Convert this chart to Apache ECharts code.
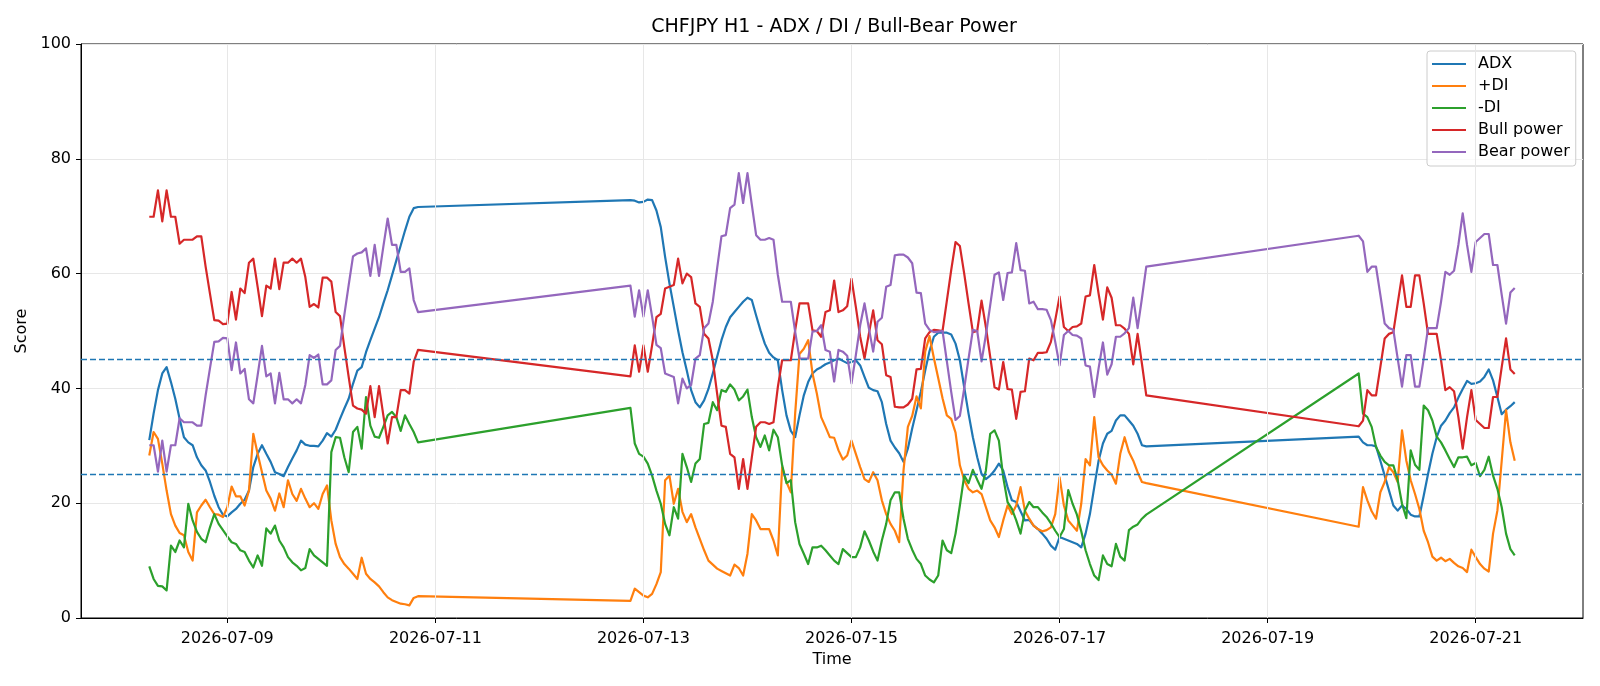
<!DOCTYPE html>
<html>
<head>
<meta charset="utf-8">
<title>CHFJPY H1 - ADX / DI / Bull-Bear Power</title>
<script src="https://cdn.jsdelivr.net/npm/echarts@6/dist/echarts.min.js"></script>
<style>
  html, body { margin: 0; padding: 0; background: #fff; }
  #chart { width: 1600px; height: 686px; }
</style>
</head>
<body>
<div id="chart"></div>
<script>
// hourly bars: first bar and bar count of each trading stretch (weekends are skipped)
const sessions = [
  ['2026-07-08 06:00', 63],
  ['2026-07-12 21:00', 120],
  ['2026-07-19 21:00', 37]
]
const xRange = ['2026-07-07 14:15', '2026-07-22 00:45']
const tickLabels = ['2026-07-09', '2026-07-11', '2026-07-13', '2026-07-15', '2026-07-17', '2026-07-19', '2026-07-21']
const levels = [45, 25]

const adx = [
  31.0, 35.6, 39.7, 42.6, 43.7, 41.1, 38.2, 34.7, 31.5, 30.6,
  30.1, 28.0, 26.6, 25.7, 23.7, 21.3, 19.3, 18.0, 17.7, 18.4,
  19.0, 19.9, 20.6, 22.2, 26.3, 28.6, 30.1, 28.6, 27.2, 25.4,
  25.1, 24.7, 26.3, 27.8, 29.2, 30.9, 30.2, 30.0, 30.0, 29.9,
  30.9, 32.2, 31.6, 32.8, 34.7, 36.5, 38.2, 40.8, 43.1, 43.7,
  46.3, 48.4, 50.4, 52.4, 54.8, 57.1, 59.7, 62.3, 64.9, 67.5,
  69.9, 71.4, 71.6,
  72.8, 72.7, 72.4, 72.5, 72.9, 72.8, 71.0, 68.1, 62.9, 58.3,
  54.2, 50.1, 46.3, 43.1, 39.7, 37.6, 36.7, 37.9, 39.9, 42.6,
  45.5, 48.4, 50.7, 52.4, 53.3, 54.2, 55.1, 55.8, 55.4, 52.7,
  50.1, 47.8, 46.2, 45.4, 44.9, 39.7, 35.3, 32.6, 31.5, 35.3,
  38.8, 41.1, 42.6, 43.3, 43.7, 44.2, 44.5, 44.9, 45.2, 44.8,
  44.4, 44.6, 44.9, 44.0, 42.0, 40.1, 39.7, 39.5, 37.6, 33.8,
  30.9, 29.7, 28.7, 27.2, 29.5, 33.0, 36.2, 39.4, 43.1, 46.5,
  49.0, 49.7, 49.7, 49.7, 49.4, 47.8, 44.9, 40.2, 35.6, 31.5,
  28.0, 25.1, 24.2, 24.8, 25.7, 26.9, 25.7, 22.8, 20.5, 20.2,
  18.6, 17.0, 17.1, 16.1, 15.5, 14.7, 13.8, 12.6, 11.9, 14.1,
  13.8, 13.5, 13.2, 12.9, 12.3, 14.7, 18.1, 22.8, 27.4, 30.4,
  32.1, 32.6, 34.4, 35.3, 35.3, 34.4, 33.5, 32.1, 30.1, 29.9,
  31.6, 30.6, 30.1, 30.1, 29.9, 27.4, 24.8, 22.2, 19.6, 18.7,
  19.6, 19.0, 18.0, 17.7, 17.7, 21.3, 25.1, 28.6, 31.5, 33.5,
  34.4, 35.7, 36.7, 38.4, 39.9, 41.3, 40.8, 40.9, 41.2, 42.0,
  43.3, 41.4, 38.5, 35.5, 36.3, 36.9, 37.6
]
const plusDi = [
  28.3, 32.4, 31.2, 26.9, 22.2, 18.1, 16.1, 14.8, 14.4, 11.5,
  10.0, 18.4, 19.6, 20.6, 19.3, 18.1, 18.0, 17.6, 19.3, 22.9,
  21.2, 21.2, 19.6, 22.2, 32.1, 28.6, 25.4, 22.2, 20.8, 18.7,
  21.7, 19.3, 24.0, 21.6, 20.4, 22.5, 20.8, 19.3, 20.0, 19.0,
  21.6, 23.1, 17.0, 12.9, 10.6, 9.4, 8.6, 7.7, 6.8, 10.5,
  7.7, 6.8, 6.2, 5.5, 4.5, 3.6, 3.1, 2.8, 2.5, 2.4,
  2.2, 3.5, 3.8,
  3.0, 5.1, 4.5, 3.9, 3.6, 4.2, 5.9, 8.0, 24.0, 24.8,
  19.9, 22.5, 18.5, 16.7, 18.1, 15.8, 13.8, 11.8, 10.0, 9.3,
  8.6, 8.2, 7.8, 7.4, 9.3, 8.7, 7.4, 11.2, 18.1, 17.0,
  15.5, 15.5, 15.5, 13.5, 10.9, 26.3, 23.7, 21.9, 35.6, 46.0,
  46.9, 48.4, 42.6, 39.1, 35.0, 33.3, 31.5, 31.4, 29.2, 27.6,
  28.3, 30.9, 28.6, 26.3, 24.2, 23.7, 25.4, 24.0, 20.5, 18.1,
  16.4, 15.2, 13.2, 25.7, 33.3, 35.2, 38.6, 36.5, 46.4, 49.1,
  45.3, 41.8, 38.3, 35.3, 34.7, 32.3, 26.6, 24.0, 22.5, 21.9,
  22.2, 21.6, 19.3, 17.0, 15.8, 14.1, 17.0, 19.6, 18.1, 19.6,
  22.8, 18.7, 17.3, 16.1, 15.5, 15.1, 15.3, 15.8, 18.1, 24.5,
  19.6, 17.0, 16.1, 15.2, 19.9, 27.7, 26.6, 35.0, 28.0, 26.6,
  25.7, 25.0, 23.4, 28.6, 31.5, 28.9, 27.4, 25.4, 23.7, 23.5,
  15.9, 22.8, 20.5, 18.6, 17.3, 21.9, 23.7, 26.3, 25.4, 23.7,
  32.7, 27.4, 24.0, 21.6, 19.0, 15.2, 13.2, 10.7, 10.0, 10.5,
  9.9, 10.3, 9.6, 9.0, 8.7, 8.0, 11.9, 10.6, 9.4, 8.6,
  8.1, 14.7, 18.7, 27.4, 36.2, 30.6, 27.4
]
const minusDi = [
  9.0, 6.8, 5.6, 5.5, 4.8, 12.6, 11.5, 13.5, 12.3, 19.9,
  17.0, 15.0, 13.8, 13.2, 15.8, 18.1, 16.4, 15.3, 14.2, 13.2,
  12.9, 11.8, 11.5, 10.0, 8.8, 10.9, 9.1, 15.6, 14.7, 16.1,
  13.5, 12.3, 10.6, 9.7, 9.1, 8.3, 8.7, 12.0, 10.9, 10.3,
  9.7, 9.1, 28.9, 31.5, 31.4, 28.0, 25.4, 32.4, 33.3, 29.5,
  38.5, 33.5, 31.6, 31.4, 33.3, 35.3, 35.9, 35.0, 32.6, 35.3,
  33.8, 32.4, 30.6,
  36.6, 30.4, 28.6, 28.1, 26.9, 24.8, 22.2, 19.9, 16.4, 14.4,
  19.3, 17.3, 28.6, 26.3, 23.7, 26.9, 27.7, 33.8, 34.0, 37.6,
  36.2, 39.7, 39.4, 40.7, 39.8, 37.9, 38.6, 39.8, 35.0, 31.5,
  29.8, 31.8, 29.2, 32.8, 31.5, 26.6, 23.5, 24.0, 16.7, 12.9,
  11.2, 9.4, 12.3, 12.3, 12.6, 11.8, 10.9, 10.0, 9.4, 12.0,
  11.3, 10.6, 10.6, 12.3, 15.1, 13.5, 11.6, 10.0, 13.5, 16.4,
  20.5, 21.9, 21.9, 17.3, 13.8, 11.9, 10.3, 9.4, 7.4, 6.7,
  6.2, 7.4, 13.5, 11.8, 11.3, 14.7, 19.6, 24.8, 23.5, 25.8,
  24.1, 22.5, 25.7, 32.1, 32.7, 30.9, 24.5, 20.2, 19.0, 17.0,
  14.7, 18.7, 20.2, 19.3, 19.3, 18.4, 17.6, 16.5, 15.2, 14.1,
  15.5, 22.3, 19.9, 18.0, 15.1, 11.8, 9.4, 7.4, 6.6, 10.9,
  9.4, 9.0, 12.9, 10.7, 10.0, 15.3, 15.9, 16.3, 17.3, 18.0,
  42.6, 35.6, 35.0, 33.3, 29.8, 28.3, 27.2, 26.6, 26.6, 24.0,
  19.9, 17.4, 29.2, 26.7, 25.8, 37.0, 36.2, 34.4, 31.6, 30.6,
  29.2, 27.7, 26.3, 28.0, 28.0, 28.1, 26.6, 27.0, 24.7, 25.8,
  28.1, 24.8, 22.5, 19.3, 14.7, 12.0, 10.9
]
const bullPower = [
  69.9, 69.9, 74.5, 69.1, 74.5, 69.9, 69.9, 65.2, 65.9, 65.9,
  65.9, 66.5, 66.5, 61.2, 56.5, 51.9, 51.8, 51.2, 51.3, 56.8,
  52.0, 57.4, 56.6, 61.9, 62.6, 57.7, 52.6, 57.9, 57.4, 62.6,
  57.3, 61.9, 61.9, 62.6, 61.9, 62.6, 59.4, 54.2, 54.7, 54.1,
  59.3, 59.3, 58.6, 53.3, 52.6, 47.2, 42.0, 37.0, 36.5, 36.3,
  35.6, 40.4, 35.0, 40.4, 35.3, 30.4, 35.0, 35.0, 39.7, 39.7,
  39.1, 44.6, 46.7,
  42.1, 47.5, 42.9, 47.5, 42.9, 47.5, 52.4, 53.0, 57.4, 57.7,
  58.0, 62.6, 58.3, 60.0, 59.4, 54.8, 54.2, 49.5, 48.7, 44.9,
  39.1, 33.5, 33.3, 28.6, 28.0, 22.5, 27.7, 22.5, 28.0, 33.3,
  34.1, 34.1, 33.8, 34.1, 40.2, 44.9, 44.9, 44.9, 50.1, 54.8,
  54.8, 54.8, 50.1, 50.0, 49.0, 53.3, 53.6, 58.8, 53.3, 53.6,
  54.3, 59.1, 54.2, 49.0, 45.2, 49.5, 53.6, 48.4, 47.7, 42.3,
  42.0, 36.8, 36.7, 36.7, 37.2, 38.2, 43.3, 43.4, 48.7, 49.8,
  50.2, 50.1, 50.0, 55.3, 60.6, 65.5, 64.8, 60.0, 54.8, 49.8,
  50.0, 55.3, 50.7, 45.5, 40.2, 39.8, 44.6, 39.9, 39.8, 34.7,
  39.4, 39.5, 45.2, 44.9, 46.2, 46.2, 46.3, 48.1, 51.9, 56.0,
  50.7, 50.0, 50.7, 50.8, 51.3, 56.0, 56.2, 61.5, 56.5, 52.0,
  57.6, 55.8, 51.0, 51.0, 50.4, 49.5, 44.2, 49.5, 44.3, 38.8,
  33.4, 34.4, 39.7, 38.8, 38.8, 43.7, 48.7, 49.5, 49.8, 54.8,
  59.7, 54.2, 54.2, 59.7, 59.7, 54.8, 49.5, 49.5, 49.5, 44.9,
  39.7, 40.2, 39.5, 35.0, 29.5, 35.0, 39.7, 34.5, 33.8, 33.1,
  33.1, 38.5, 38.5, 43.7, 48.7, 43.3, 42.5
]
const bearPower = [
  30.1, 30.1, 25.5, 30.9, 25.5, 30.1, 30.1, 34.8, 34.1, 34.1,
  34.1, 33.5, 33.5, 38.8, 43.5, 48.1, 48.2, 48.8, 48.7, 43.2,
  48.0, 42.6, 43.4, 38.1, 37.4, 42.3, 47.4, 42.1, 42.6, 37.4,
  42.7, 38.1, 38.1, 37.4, 38.1, 37.4, 40.6, 45.8, 45.3, 45.9,
  40.7, 40.7, 41.4, 46.7, 47.4, 52.8, 58.0, 63.0, 63.5, 63.7,
  64.4, 59.6, 65.0, 59.6, 64.7, 69.6, 65.0, 65.0, 60.3, 60.3,
  60.9, 55.4, 53.3,
  57.9, 52.5, 57.1, 52.5, 57.1, 52.5, 47.6, 47.0, 42.6, 42.3,
  42.0, 37.4, 41.7, 40.0, 40.6, 45.2, 45.8, 50.5, 51.3, 55.1,
  60.9, 66.5, 66.7, 71.4, 72.0, 77.5, 72.3, 77.5, 72.0, 66.7,
  65.9, 65.9, 66.2, 65.9, 59.8, 55.1, 55.1, 55.1, 49.9, 45.2,
  45.2, 45.2, 49.9, 50.0, 51.0, 46.7, 46.4, 41.2, 46.7, 46.4,
  45.7, 40.9, 45.8, 51.0, 54.8, 50.5, 46.4, 51.6, 52.3, 57.7,
  58.0, 63.2, 63.3, 63.3, 62.8, 61.8, 56.7, 56.6, 51.3, 50.2,
  49.8, 49.9, 50.0, 44.7, 39.4, 34.5, 35.2, 40.0, 45.2, 50.2,
  50.0, 44.7, 49.3, 54.5, 59.8, 60.2, 55.4, 60.1, 60.2, 65.3,
  60.6, 60.5, 54.8, 55.1, 53.8, 53.8, 53.7, 51.9, 48.1, 44.0,
  49.3, 50.0, 49.3, 49.2, 48.7, 44.0, 43.8, 38.5, 43.5, 48.0,
  42.4, 44.2, 49.0, 49.0, 49.6, 50.5, 55.8, 50.5, 55.7, 61.2,
  66.6, 65.6, 60.3, 61.2, 61.2, 56.3, 51.3, 50.5, 50.2, 45.2,
  40.3, 45.8, 45.8, 40.3, 40.3, 45.2, 50.5, 50.5, 50.5, 55.1,
  60.3, 59.8, 60.5, 65.0, 70.5, 65.0, 60.3, 65.5, 66.2, 66.9,
  66.9, 61.5, 61.5, 56.3, 51.3, 56.7, 57.5
]

const FONT = 'DejaVu Sans'
const HOUR = 3600 * 1000

function toTime (s) {
  const [d, t = '00:00'] = s.split(' ')
  const [y, m, day] = d.split('-').map(Number)
  const [hh, mm] = t.split(':').map(Number)
  return Date.UTC(y, m - 1, day, hh, mm)
}

const times = []
sessions.forEach(([start, n]) => {
  const t0 = toTime(start)
  for (let i = 0; i < n; i++) times.push(t0 + i * HOUR)
})
const tickTimes = tickLabels.map(toTime)

function pair (values) {
  return values.map((v, i) => [times[i], v])
}

const lines = [
  { name: 'ADX', color: '#1f77b4', values: adx },
  { name: '+DI', color: '#ff7f0e', values: plusDi },
  { name: '-DI', color: '#2ca02c', values: minusDi },
  { name: 'Bull power', color: '#d62728', values: bullPower },
  { name: 'Bear power', color: '#9467bd', values: bearPower }
]

const series = lines.map(l => ({
  name: l.name,
  type: 'line',
  data: pair(l.values),
  symbol: 'none',
  color: l.color,
  lineStyle: { color: l.color, width: 2.2, join: 'round' }
}))

// dashed reference levels on top of the lines
series[series.length - 1].markLine = {
  silent: true,
  symbol: 'none',
  label: { show: false },
  lineStyle: { color: '#1f77b4', type: [6, 3], width: 1.3 },
  data: levels.map(v => ({ yAxis: v }))
}

// vertical grid at the date ticks
series.unshift({
  name: 'grid',
  type: 'line',
  data: [],
  silent: true,
  z: 0,
  markLine: {
    silent: true,
    symbol: 'none',
    label: { show: false },
    lineStyle: { color: '#e7e7e7', type: 'solid', width: 1 },
    data: tickTimes.map(t => ({ xAxis: t }))
  }
})

const chart = echarts.init(document.getElementById('chart'))
chart.setOption({
  animation: false,
  backgroundColor: '#fff',
  textStyle: { fontFamily: FONT },
  title: {
    text: 'CHFJPY H1 - ADX / DI / Bull-Bear Power',
    left: 829,
    top: 13,
    textAlign: 'center',
    textStyle: { fontSize: 19, fontWeight: 'normal', color: '#000', fontFamily: FONT }
  },
  grid: {
    left: 81, right: 17, top: 44, bottom: 68,
    show: true, borderColor: '#000', borderWidth: 1
  },
  legend: {
    data: lines.map(l => l.name),
    orient: 'vertical',
    left: 1427,
    top: 51,
    icon: 'rect',
    itemWidth: 34,
    itemHeight: 2,
    itemGap: 6,
    padding: [5, 6, 6, 5],
    backgroundColor: 'rgba(255,255,255,0.8)',
    borderColor: '#cccccc',
    borderWidth: 1,
    borderRadius: 3,
    textStyle: { fontSize: 16, fontFamily: FONT, color: '#000', lineHeight: 16, padding: [0, 0, 0, 7] }
  },
  xAxis: {
    type: 'value',
    min: toTime(xRange[0]),
    max: toTime(xRange[1]),
    name: 'Time',
    nameLocation: 'middle',
    nameGap: 31,
    nameTextStyle: { fontSize: 16, color: '#000', fontFamily: FONT },
    axisLine: { onZero: false, lineStyle: { color: '#000', width: 1 } },
    axisTick: { show: true, customValues: tickTimes, length: 5, lineStyle: { color: '#000' } },
    axisLabel: {
      customValues: tickTimes,
      formatter: v => tickLabels[tickTimes.indexOf(v)] || '',
      color: '#000',
      fontSize: 16,
      fontFamily: FONT,
      margin: 13
    },
    splitLine: { show: false }
  },
  yAxis: {
    type: 'value',
    min: 0,
    max: 100,
    interval: 20,
    name: 'Score',
    nameLocation: 'middle',
    nameGap: 43,
    nameTextStyle: { fontSize: 16, color: '#000', fontFamily: FONT },
    axisLine: { show: true, lineStyle: { color: '#000', width: 1 } },
    axisTick: { show: true, length: 5, lineStyle: { color: '#000' } },
    axisLabel: { color: '#000', fontSize: 16, fontFamily: FONT, margin: 10 },
    splitLine: { show: true, lineStyle: { color: '#e7e7e7', width: 1 } }
  },
  series: series
})
</script>
</body>
</html>
